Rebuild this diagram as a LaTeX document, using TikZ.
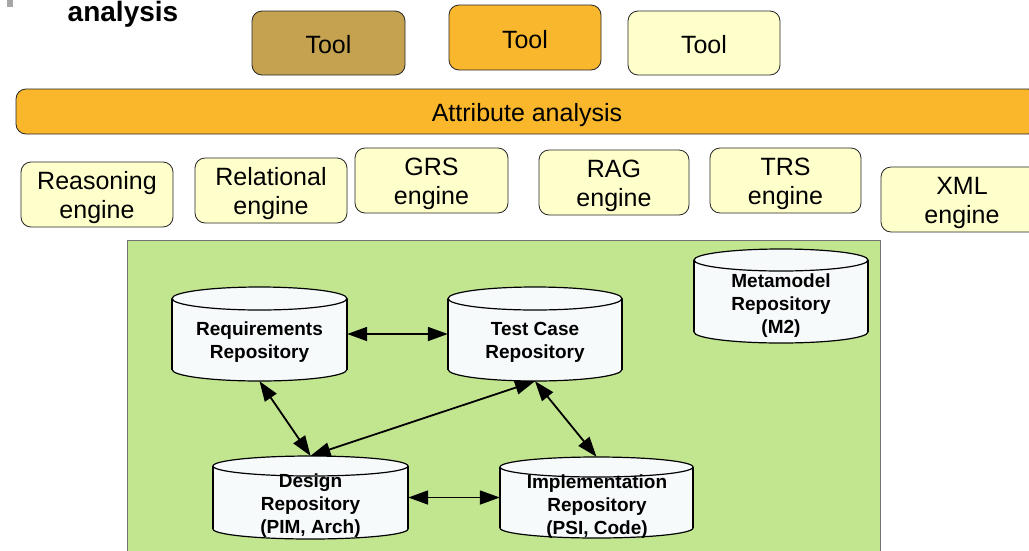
\documentclass[tikz,border=0pt]{standalone}
\usepackage{fontspec}
\setmainfont{Liberation Sans}
\usetikzlibrary{arrows.meta}
\definecolor{toolA}{RGB}{196,162,80}
\definecolor{toolB}{RGB}{249,183,45}
\definecolor{attr}{RGB}{251,183,44}
\definecolor{eng}{RGB}{255,255,204}
\definecolor{panel}{RGB}{194,230,144}
\definecolor{cylfill}{RGB}{247,250,251}
\newcommand{\repocyl}[5]{%
  \pgfmathsetmacro\cxc{(#1+#2)/2}%
  \pgfmathsetmacro\crx{(#2-#1)/2}%
  \pgfmathsetmacro\cyt{#3+#5}%
  \pgfmathsetmacro\cyb{#4-#5}%
  \filldraw[cylline] (\cxc,\cyb) ellipse [x radius=\crx, y radius=#5];
  \fill[cylfill] (#1,\cyt) rectangle (#2,\cyb);
  \draw[cylline] (#1,\cyt) -- (#1,\cyb) (#2,\cyt) -- (#2,\cyb);
  \filldraw[cylline] (\cxc,\cyt) ellipse [x radius=\crx, y radius=#5];
}
\tikzset{
  toolbox/.style={draw=black!85, rounded corners=10pt, line width=0.8pt, inner sep=0pt},
  engbox/.style={toolbox, fill=eng},
  boxtext/.style={font=\fontsize{25}{29}\selectfont, align=center, inner sep=0pt, yshift=-3.5pt},
  tooltext/.style={boxtext, yshift=1.5pt},
  repobox/.style={inner sep=0pt, draw=none},
  repotext/.style={font=\bfseries\fontsize{19}{23}\selectfont, align=center, inner sep=0pt},
  link/.style={{Triangle[length=20pt,width=14pt]}-{Triangle[length=20pt,width=14pt]}, line width=1.8pt},
  cylline/.style={draw=black, line width=1.2pt, fill=cylfill},
}
\begin{document}
\begin{tikzpicture}[x=1pt,y=-1pt]
\useasboundingbox (0,0) rectangle (1029,550);
\clip (0,0) rectangle (1029,550);
\fill[white] (0,0) rectangle (1029,550);
% top-left fragment
\fill[gray!70] (7,0) rectangle (13,7);
\node[font=\bfseries\fontsize{28}{32}\selectfont, anchor=base, inner sep=0pt] (title) at (123,21) {analysis};
% tools
\node[toolbox, fill=toolA, minimum width=153pt, minimum height=64pt, label={[tooltext]center:Tool}] (tool1) at (328.5,43) {};
\node[toolbox, fill=toolB, minimum width=152pt, minimum height=65pt, label={[tooltext]center:Tool}] (tool2) at (525,37.5) {};
\node[engbox, minimum width=152pt, minimum height=64pt, label={[tooltext]center:Tool}] (tool3) at (704,43) {};
% attribute analysis bar
\node[toolbox, fill=attr, minimum width=1022pt, minimum height=45pt, label={[boxtext]center:Attribute analysis}] (attr) at (527,111.5) {};
% engines
\node[engbox, minimum width=152pt, minimum height=65pt, label={[boxtext]center:Reasoning\\engine}] (reas) at (97,194.5) {};
\node[engbox, minimum width=152pt, minimum height=65pt, label={[boxtext]center:Relational\\engine}] (rel) at (271,190.5) {};
\node[engbox, minimum width=153pt, minimum height=65pt, label={[boxtext]center:GRS\\engine}] (grs) at (431.5,180.5) {};
\node[engbox, minimum width=150pt, minimum height=65pt, label={[boxtext]center:RAG\\engine}] (rag) at (614,182.5) {};
\node[engbox, minimum width=151pt, minimum height=65pt, label={[boxtext]center:TRS\\engine}] (trs) at (785.5,180.5) {};
\node[engbox, minimum width=162pt, minimum height=65pt, label={[boxtext]center:XML\\engine}] (xml) at (962,199.5) {};
% green panel
\filldraw[fill=panel, draw=black!55, line width=0.8pt] (127,240) rectangle (880,560);
% repositories
\repocyl{172}{347}{287}{381}{11.5}
\repocyl{448}{622}{287}{381}{11.5}
\repocyl{213}{408}{456}{539}{10}
\repocyl{500}{693}{457}{538}{10}
\repocyl{694}{868}{249}{343}{11}
\node[repobox, minimum width=175pt, minimum height=94pt] (req) at (259.5,334) {};
\node[repobox, minimum width=174pt, minimum height=94pt] (test) at (535,334) {};
\node[repobox, minimum width=195pt, minimum height=83pt] (des) at (310.5,497.5) {};
\node[repobox, minimum width=193pt, minimum height=81pt] (imp) at (596.5,497.5) {};
\node[repobox, minimum width=174pt, minimum height=94pt] (meta) at (781,296) {};
\node[repotext] (reqt) at (259.5,342.5) {Requirements\\Repository};
\node[repotext] (testt) at (535,342.5) {Test Case\\Repository};
\node[repotext] (metat) at (781,305.5) {Metamodel\\Repository\\(M2)};
\node[repotext] (dest) at (310.5,506) {Design\\Repository\\(PIM, Arch)};
\node[repotext] (impt) at (597,506.5) {Implementation\\Repository\\(PSI, Code)};
% links
\draw[link] (req.east) -- (test.west);
\draw[link] (req.south) -- (des.north);
\draw[link] (test.south) -- (des.north);
\draw[link] (test.south) -- (imp.north);
\draw[link] (des.east) -- (imp.west);
\end{tikzpicture}
\end{document}
